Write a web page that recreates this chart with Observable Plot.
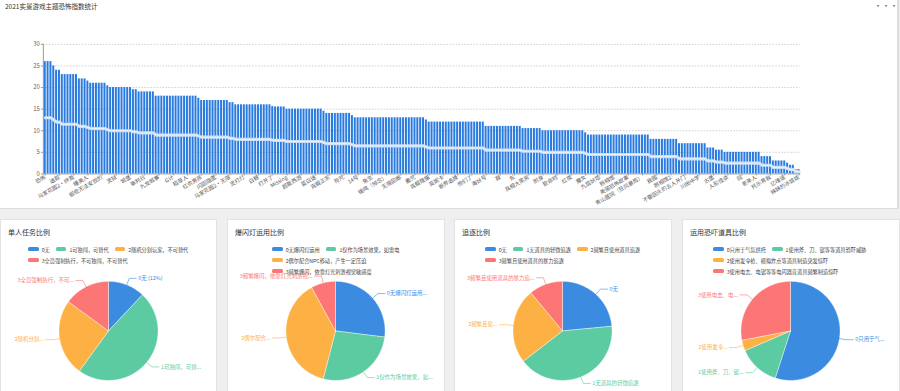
<!DOCTYPE html>
<html><head><meta charset="utf-8">
<script src="https://cdn.jsdelivr.net/npm/d3@7"></script>
<script src="https://cdn.jsdelivr.net/npm/@observablehq/plot@0.6"></script>
<style>
html,body{margin:0;padding:0;width:900px;height:391px;overflow:hidden;background:#efefef;font-family:"Noto Sans CJK SC","Noto Sans",sans-serif;}
#top{position:absolute;left:0;top:0;width:897px;height:208px;background:#fff;border-right:2px solid #ddd;border-bottom:1px solid #dcdcdc}
#top svg{position:absolute;left:0;top:0}
.title{position:absolute;left:5px;top:1px;font-size:6.5px;line-height:10px;color:#333}
.dots{position:absolute;left:874px;top:1px;font-size:8px;line-height:9px;color:#555;letter-spacing:0px}
.panel{position:absolute;top:219px;height:180px;background:#fff;border:1px solid #e2e2e2;box-sizing:border-box;overflow:hidden}
.ptitle{position:absolute;left:7px;top:7px;font-size:7px;line-height:10px;color:#333}
.legend{position:absolute;top:23.5px;display:flex;flex-wrap:wrap}
.item{display:flex;align-items:center;height:11px;margin-right:6px;font-size:5.2px;color:#444;white-space:nowrap}
.sw{width:10.7px;height:4.7px;border-radius:1.5px;margin-right:3px}
</style></head>
<body>
<div id="top"><div class="title">2021实景游戏主题恐怖指数统计</div><div class="dots">···</div></div>
<div id="panels"></div>
<script>
// ---------- top chart data ----------
const tickLabels = ["恐怖","迷踪","马家花园2·终焉","睡美人","那些无法安放的","灵狱","城堡","审判日","九龙城寨","G计","稻草人","红衣男孩","闪回隐匿","马家花园2·无限","灵打灯","白鲸","打开了","Missing","超能西游","蓝白迷","真假正宗","符咒","14号","兔生","蛾鸣（悼念）","无限回廊","蛊咒","真假狸猫","莫妮卡","新界选择","他们了","海妖号","寂","东","真相大黑房","附身","致命时","红夜","魔女","九层妖塔","照相馆","美丽恐怖故事","青山医院（狂风暴雨）","寂园","照相馆2","不要回头的五人开门","川田中学","古堡","人形怪谈","院","老年人","托乐育我","忆魂谣","妹妹的冰娃娃"];
const barValues = [
26,26,26,25,24,24,23,23,23,23,
23,23,22,22,22,21.5,21,21,21,21,
21,21,20.4,20,20,20,20,20,20,20,
20,19.5,19.5,19,19,19,19,19,19,18,
18,18,18,18,18,18,18,18,18,18,
18,18,18,18,17.5,17,17,17,17,17,
17,17,17,17,17,16.5,16.5,16,16,16,
16,16,16,16,16,16,16,16,16,16,
15.6,15.5,15.5,15.5,15.5,15,15,15,15,15,
15,15,15,15,15,15,15,15,14.5,14,
14,14,14,14,14,14,14,14,13.5,13,
13,13,13,13,13,13,13,13,13,13,
13,13,13,13,13,13,13,13,13,13,
13,13,13,13,12.5,12,12,12,12,12,
12,12,12,12,12,12,12,12,12,12,
12,12,12,12,12,11,11,11,11,11,
11,11,11,11,11,11,11,11,10.5,10.5,
10.5,10.5,10.5,10.5,10.5,10,10,10,10,10,
10,10,10,10,10,10,10,10,10,10,
9.5,9,9,9,9,9,9,9,9,9,
9,9,9,9,9,9,9,9,9,9,
9,9,9,8,8,8,8,8,8,8,
8,8,8,7,7,7,7,7,7,7,
7,7,7,6,6,6,5.5,5.5,5.5,5,
5,5,5,5,5,5,5,5,5,5,
5,5,4,4,4,4,3,3,3,3,
3,2.5,2,2,1,1];
const lineValues = [
13,13,13,12.5,12,12,11.5,11.5,11.5,11.5,
11.5,11.5,11,11,11,10.75,10.5,10.5,10.5,10.5,
10.5,10.5,10.2,10,10,10,10,10,10,10,
10,9.75,9.75,9.5,9.5,9.5,9.5,9.5,9.5,9,
9,9,9,9,9,9,9,9,9,9,
9,9,9,9,8.75,8.5,8.5,8.5,8.5,8.5,
8.5,8.5,8.5,8.5,8.5,8.25,8.25,8,8,8,
8,8,8,8,8,8,8,8,8,8,
7.8,7.75,7.75,7.75,7.75,7.5,7.5,7.5,7.5,7.5,
7.5,7.5,7.5,7.5,7.5,7.5,7.5,7.5,7.25,7,
7,7,7,7,7,7,7,7,6.75,6.5,
6.5,6.5,6.5,6.5,6.5,6.5,6.5,6.5,6.5,6.5,
6.5,6.5,6.5,6.5,6.5,6.5,6.5,6.5,6.5,6.5,
6.5,6.5,6.5,6.5,6.25,6,6,6,6,6,
6,6,6,6,6,6,6,6,6,6,
6,6,6,6,6,5.5,5.5,5.5,5.5,5.5,
5.5,5.5,5.5,5.5,5.5,5.5,5.5,5.5,5.25,5.25,
5.25,5.25,5.25,5.25,5.25,5,5,5,5,5,
5,5,5,5,5,5,5,5,5,5,
4.75,4.5,4.5,4.5,4.5,4.5,4.5,4.5,4.5,4.5,
4.5,4.5,4.5,4.5,4.5,4.5,4.5,4.5,4.5,4.5,
4.5,4.5,4.5,4,4,4,4,4,4,4,
4,4,4,3.5,3.5,3.5,3.5,3.5,3.5,3.5,
3.5,3.5,3.5,3,3,3,2.75,2.75,2.75,2.5,
2.5,2.5,2.5,2.5,2.5,2.5,2.5,2.5,2.5,2.5,
2.5,2.5,2,2,2,2,1.5,1.5,1.5,1.5,
1.5,1.25,1,1,0.5,0.5];
const yTicks = [0,5,10,15,20,25,30];

// ---------- pie data ----------
const sliceColors = ["#3b8be0","#5ccba1","#fdb145","#fc7676"];
const pieTitles = ["单人任务比例","爆闪灯运用比例","追逐比例","运用恐吓道具比例"];
const pie1Names = ["0无","1可独闯，可替代","2随机分割玩家，不可替代","3全员强制执行，不可独闯，不可替代"];
const pie1Values = [12,48,25,15];
const pie1Labels = ["0无 (12%)","1可独闯，可替...","2随机分割...","3全员强制执行，不可..."];
const pie2Names = ["0无爆闪灯运用","1仅作为场景效果，如雷电","2偶尔配合NPC移动，产生一定压迫","3频繁爆闪，依靠灯光刺激视觉敏感度"];
const pie2Values = [27,27,38,8];
const pie2Labels = ["0无爆闪灯运用...","1仅作为场景效果，如...","2偶尔配合...","3频繁爆闪，依靠灯光刺激视..."];
const pie3Names = ["0无","1无道具的轻微追逐","2频繁且使用道具追逐","3频繁且使用道具的暴力追逐"];
const pie3Values = [23.5,41,24.5,11];
const pie3Labels = ["0无","1无道具的轻微追逐","2频繁且使...","3频繁且使用道具的暴力追..."];
const pie4Names = ["0只用于气氛烘托","1使用斧、刀、锯等等道具恐吓威胁","2使用发令枪、模拟炸点等道具制造突发惊吓","3使用电击、电锯等等电闪器音道具频繁制造惊吓"];
const pie4Values = [55,13.5,3.5,28];
const pie4Labels = ["0只用于气...","1使用斧、刀、锯...","2使用发令...","3使用电击、电..."];

const FONT = '"Noto Sans CJK SC","Noto Sans",sans-serif';

// ---------- top chart ----------
const idx = d3.range(barValues.length);
const topChart = Plot.plot({
  width: 900, height: 208,
  marginLeft: 43, marginRight: 97, marginTop: 44, marginBottom: 34,
  style: {fontFamily: FONT, color: "#666", background: "transparent", overflow: "visible"},
  x: {type: "band", domain: idx, padding: 0.3, round: false, axis: null},
  y: {domain: [0, 30], axis: null},
  marks: [
    Plot.gridY(yTicks.slice(1), {stroke: "#cfcfcf", strokeOpacity: 1, strokeDasharray: "1.5,1.5"}),
    Plot.barY(idx, {x: d => d, y: d => barValues[d], fill: "#2a7be0"}),
    Plot.line(idx, {x: d => d, y: d => lineValues[d], stroke: "#c9def6", strokeWidth: 3.2}),
    Plot.line(idx, {x: d => d, y: d => lineValues[d], stroke: "#ffffff", strokeOpacity: 0.85, strokeWidth: 0.9, strokeDasharray: "1,1.2"}),
    Plot.ruleY([0], {stroke: "#999"}),
    Plot.frame({anchor: "left", stroke: "#999"}),
    Plot.axisY({ticks: yTicks, tickSize: 2, tickPadding: 1.5, fontSize: 6, stroke: "#999", fill: "#666"}),
    Plot.axisX({ticks: idx.filter(i => i % 5 === 0), tickFormat: i => tickLabels[i / 5], tickRotate: -30, tickSize: 2, tickPadding: 1, fontSize: 5.4, stroke: "#999", fill: "#555"})
  ]
});
document.getElementById("top").appendChild(topChart);

// ---------- pies ----------
const panelLefts = [0, 227, 454, 682];
const panelWidths = [217, 218, 218, 218];
const legendBoxes = [[27,185],[44,135],[30,178],[30,165]];
const pies = [
  [pie1Names, pie1Values, pie1Labels],
  [pie2Names, pie2Values, pie2Labels],
  [pie3Names, pie3Values, pie3Labels],
  [pie4Names, pie4Values, pie4Labels]
];

function piePlot(values, labels, w) {
  const arcs = d3.pie().sort(null).value(d => d)(values);
  const marks = [];
  const L1 = 0.14, L2 = 0.14;
  arcs.forEach((a, i) => {
    const n = Math.max(4, Math.ceil((a.endAngle - a.startAngle) / 0.02));
    const pts = [{x: 0, y: 0}];
    for (let t = 0; t <= n; t++) {
      const ang = a.startAngle + (a.endAngle - a.startAngle) * t / n;
      pts.push({x: Math.sin(ang), y: Math.cos(ang)});
    }
    pts.push({x: 0, y: 0});
    marks.push(Plot.line(pts, {x: "x", y: "y", fill: sliceColors[i], stroke: "#fff", strokeWidth: 0.4}));
  });
  arcs.forEach((a, i) => {
    const m = (a.startAngle + a.endAngle) / 2;
    const sx = Math.sin(m), sy = Math.cos(m);
    const side = sx >= 0 ? 1 : -1;
    const p0 = {x: sx, y: sy};
    const p1 = {x: sx * (1 + L1), y: sy * (1 + L1)};
    const p2 = {x: p1.x + side * L2, y: p1.y};
    marks.push(Plot.line([p0, p1, p2], {x: "x", y: "y", stroke: sliceColors[i], strokeWidth: 0.6}));
    marks.push(Plot.text([{x: p2.x + side * 0.04, y: p2.y, t: labels[i]}], {
      x: "x", y: "y", text: "t", fill: sliceColors[i], fontSize: 5.5,
      textAnchor: side > 0 ? "start" : "end"
    }));
  });
  const cx = 108, cy = 65, r = 50, h = 126;
  return Plot.plot({
    width: w, height: h, margin: 0,
    style: {fontFamily: FONT, background: "transparent", overflow: "visible"},
    x: {domain: [-cx / r, (w - cx) / r], axis: null},
    y: {domain: [-(h - cy) / r, cy / r], axis: null},
    marks
  });
}

const host = document.getElementById("panels");
pies.forEach(([names, values, labels], k) => {
  const p = document.createElement("div");
  p.className = "panel";
  p.style.left = panelLefts[k] + "px";
  p.style.width = panelWidths[k] + "px";
  const t = document.createElement("div");
  t.className = "ptitle"; t.textContent = pieTitles[k];
  p.appendChild(t);
  const lg = document.createElement("div");
  lg.className = "legend";
  lg.style.left = legendBoxes[k][0] + "px";
  lg.style.width = legendBoxes[k][1] + "px";
  names.forEach((nm, i) => {
    const it = document.createElement("div"); it.className = "item";
    const sw = document.createElement("div"); sw.className = "sw"; sw.style.background = sliceColors[i];
    const tx = document.createElement("span"); tx.textContent = nm;
    it.appendChild(sw); it.appendChild(tx); lg.appendChild(it);
  });
  p.appendChild(lg);
  const svg = piePlot(values, labels, panelWidths[k]);
  svg.style.position = "absolute"; svg.style.left = "0px"; svg.style.top = "46px";
  p.appendChild(svg);
  host.appendChild(p);
});
</script>
</body></html>
